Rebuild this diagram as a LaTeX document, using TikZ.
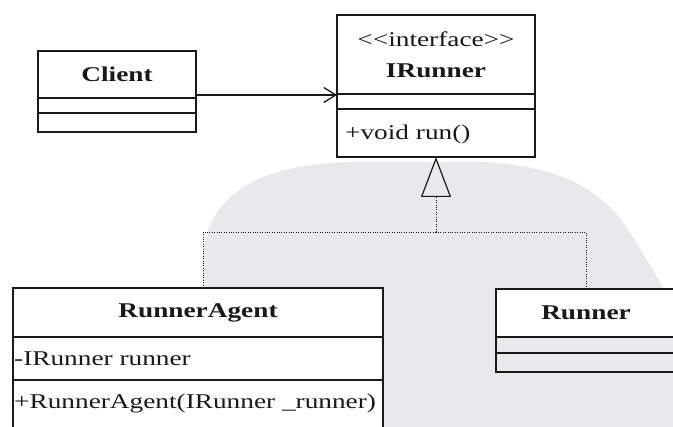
\documentclass[tikz,border=0pt]{standalone}
\usepackage{fontspec}
\setmainfont{Liberation Serif}[FakeStretch=1.3]
\usetikzlibrary{arrows.meta}
\definecolor{wm}{RGB}{233,233,235}
\definecolor{ink}{RGB}{25,25,25}
\begin{document}
\begin{tikzpicture}[x=1pt,y=-1pt,
  box/.style={draw=ink, line width=1.3pt, fill=white, inner sep=0pt, outer sep=0pt, minimum width=#1, text=ink, font=\fontsize{21}{31}\selectfont},
  txt/.style={inner sep=0pt, text=ink, font=\fontsize{21}{24}\selectfont},
  real/.style={draw=ink, line width=0.9pt, dash pattern=on 1pt off 1.4pt},
  assoc/.style={draw=ink, line width=1.3pt, -{Straight Barb[length=12pt,width=15pt]}}]
\clip (0,0) rectangle (673,427);
% watermark background
\fill[wm] (200,430) -- (203,260) .. controls (205,200) and (250,165) .. (350,162) -- (480,162)
  .. controls (560,165) and (600,190) .. (625,225) .. controls (645,255) and (665,290) .. (680,320)
  -- (680,430) -- cycle;
% Client
\node[box=158pt, minimum height=47pt] (client) at (117,74.5) {\bfseries Client};
\node[box=158pt, minimum height=15pt, anchor=north] (clientattr) at (client.south) {};
\node[box=158pt, minimum height=19pt, anchor=north] (clientop) at (clientattr.south) {};
% IRunner
\node[box=198pt, minimum height=79pt, align=center] (ir) at (436,54.5) {<{}<interface>{}>\\{\bfseries IRunner}};
\node[box=198pt, minimum height=15pt, anchor=north] (irattr) at (ir.south) {};
\node[box=198pt, minimum height=48pt, anchor=north] (irop) at (irattr.south) {};
\node[txt, anchor=west] (irrun) at (345,134) {+void run()};
% RunnerAgent
\node[box=370pt, minimum height=49pt] (ra) at (198,312.5) {\bfseries RunnerAgent};
\node[box=370pt, minimum height=43pt, anchor=north] (raattr) at (ra.south) {};
\node[box=370pt, minimum height=60pt, anchor=north] (raop) at (raattr.south) {};
\node[txt, anchor=west] (rafield) at (14,359) {-IRunner runner};
\node[txt, anchor=west] (ractor) at (14,403) {+RunnerAgent(IRunner \_runner)};
% Runner
\node[box=180pt, minimum height=48pt] (rn) at (586,313) {\bfseries Runner};
\node[box=180pt, minimum height=16pt, anchor=north, fill=none] (rnattr) at (rn.south) {};
\node[box=180pt, minimum height=19pt, anchor=north, fill=none] (rnop) at (rnattr.south) {};
% connectors
\draw[assoc] ([yshift=-20.5pt]client.east) -- ([yshift=-20.5pt]client.east -| ir.west);
\coordinate (j) at (436,232);
\draw[real] ([xshift=5pt]ra.north) |- (j);
\draw[real] (rn.north) |- (j);
\draw[real, -{Triangle[open, length=40pt, width=30pt, line width=1.2pt, sep=0pt]}] (j) -- (irop.south);
\end{tikzpicture}
\end{document}
